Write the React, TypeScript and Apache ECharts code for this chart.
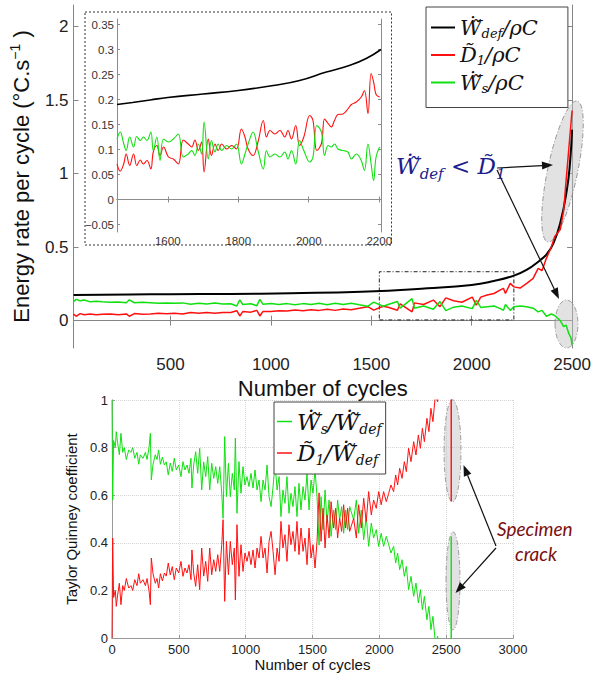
import React, { useEffect, useRef } from 'react';
import * as echarts from 'echarts';

// ---------- DATA ----------
const mainTicksX = [500, 1000, 1500, 2000, 2500];
const mainTicksY = [0, 0.5, 1, 1.5, 2];
const insetTicksX = [1600, 1800, 2000, 2200];
const insetTicksY = [-0.05, 0, 0.05, 0.1, 0.15, 0.2, 0.25, 0.3, 0.35];

const mainBlack = [[17,0.175],[300,0.178],[500,0.18],[800,0.182],[1100,0.187],[1450,0.197],[1780,0.22],[2000,0.243],[2110,0.27],[2207,0.305],[2273,0.345],[2339,0.41],[2375,0.455],[2408,0.53],[2441,0.664],[2474,0.89],[2490,1.08],[2500,1.3]];

const mainRed = [[17,0.045],[30,0.03],[50,0.048],[70,0.04],[100,0.045],[130,0.04],[160,0.044],[200,0.045],[240,0.04],[280,0.046],[295,0.03],[320,0.048],[360,0.044],[400,0.046],[440,0.05],[480,0.047],[520,0.05],[560,0.046],[600,0.056],[640,0.05],[680,0.055],[720,0.05],[760,0.056],[800,0.055],[830,0.068],[845,0.032],[860,0.062],[900,0.058],[930,0.07],[945,0.032],[960,0.062],[1000,0.062],[1040,0.068],[1080,0.065],[1120,0.072],[1160,0.068],[1200,0.075],[1240,0.07],[1280,0.078],[1320,0.07],[1360,0.08],[1400,0.075],[1440,0.085],[1482,0.095],[1512,0.072],[1559,0.098],[1588,0.09],[1630,0.071],[1644,0.115],[1703,0.06],[1715,0.121],[1760,0.11],[1809,0.14],[1842,0.095],[1871,0.155],[1910,0.135],[1951,0.125],[2003,0.16],[2023,0.105],[2045,0.16],[2077,0.175],[2111,0.185],[2143,0.209],[2158,0.22],[2168,0.185],[2192,0.254],[2210,0.23],[2241,0.222],[2274,0.254],[2306,0.288],[2331,0.356],[2350,0.34],[2372,0.424],[2397,0.503],[2413,0.571],[2441,0.62],[2458,0.75],[2470,0.95],[2483,1.16],[2495,1.35],[2500,1.43]];

const mainGreen = [[17,0.13],[30,0.145],[50,0.135],[70,0.14],[100,0.128],[130,0.132],[160,0.128],[200,0.125],[240,0.127],[280,0.122],[295,0.142],[320,0.122],[360,0.125],[400,0.122],[440,0.118],[480,0.121],[520,0.118],[560,0.121],[600,0.112],[640,0.118],[680,0.114],[720,0.12],[760,0.113],[800,0.115],[830,0.1],[845,0.142],[860,0.11],[900,0.115],[930,0.102],[945,0.145],[960,0.112],[1000,0.116],[1040,0.11],[1080,0.116],[1120,0.108],[1160,0.116],[1200,0.11],[1240,0.118],[1280,0.108],[1320,0.118],[1360,0.11],[1400,0.118],[1440,0.108],[1482,0.098],[1512,0.126],[1559,0.098],[1588,0.112],[1630,0.131],[1644,0.085],[1703,0.15],[1715,0.085],[1760,0.1],[1809,0.078],[1842,0.13],[1871,0.068],[1910,0.092],[1951,0.1],[2003,0.082],[2023,0.138],[2045,0.09],[2077,0.095],[2111,0.1],[2143,0.082],[2158,0.07],[2168,0.11],[2192,0.07],[2210,0.095],[2241,0.1],[2274,0.095],[2306,0.085],[2331,0.06],[2350,0.07],[2372,0.03],[2397,0.045],[2413,0.035],[2441,0.0],[2458,-0.04],[2470,-0.03],[2483,-0.085],[2495,-0.12],[2500,-0.165]];

const insetBlack = [[1456,0.19],[1500,0.194],[1550,0.199],[1600,0.204],[1700,0.211],[1800,0.218],[1900,0.228],[1974,0.238],[2050,0.255],[2115,0.268],[2163,0.282],[2205,0.3]];

const insetRed = [[1456,0.071],[1465,0.057],[1475,0.071],[1482,0.091],[1492,0.068],[1503,0.091],[1512,0.068],[1522,0.079],[1531,0.071],[1541,0.078],[1552,0.061],[1559,0.095],[1569,0.108],[1578,0.088],[1588,0.105],[1602,0.085],[1616,0.081],[1630,0.071],[1644,0.119],[1658,0.111],[1668,0.105],[1677,0.119],[1687,0.098],[1696,0.115],[1703,0.055],[1715,0.121],[1724,0.088],[1734,0.111],[1743,0.098],[1753,0.111],[1767,0.101],[1781,0.108],[1795,0.101],[1809,0.141],[1819,0.125],[1828,0.101],[1842,0.088],[1856,0.115],[1871,0.158],[1880,0.125],[1890,0.138],[1904,0.131],[1918,0.138],[1932,0.125],[1941,0.138],[1951,0.121],[1963,0.148],[1974,0.108],[1986,0.125],[2003,0.168],[2012,0.158],[2023,0.098],[2036,0.112],[2045,0.161],[2055,0.152],[2064,0.145],[2073,0.158],[2083,0.17],[2097,0.171],[2111,0.181],[2121,0.19],[2135,0.195],[2149,0.205],[2158,0.218],[2168,0.172],[2177,0.252],[2184,0.235],[2191,0.21],[2201,0.205]];

const insetGreen = [[1456,0.121],[1465,0.135],[1475,0.112],[1482,0.098],[1492,0.125],[1503,0.105],[1512,0.126],[1522,0.118],[1531,0.125],[1541,0.118],[1552,0.135],[1559,0.098],[1569,0.125],[1578,0.078],[1588,0.121],[1602,0.115],[1616,0.121],[1630,0.131],[1644,0.085],[1658,0.091],[1668,0.098],[1677,0.088],[1687,0.111],[1696,0.091],[1703,0.155],[1715,0.081],[1724,0.118],[1734,0.095],[1743,0.111],[1753,0.098],[1767,0.108],[1781,0.101],[1795,0.111],[1809,0.071],[1819,0.091],[1828,0.111],[1842,0.135],[1856,0.098],[1871,0.061],[1880,0.098],[1890,0.085],[1904,0.091],[1918,0.085],[1932,0.095],[1941,0.081],[1951,0.098],[1963,0.071],[1974,0.118],[1986,0.098],[2003,0.075],[2012,0.085],[2023,0.148],[2036,0.135],[2045,0.088],[2055,0.108],[2064,0.105],[2073,0.111],[2083,0.101],[2097,0.098],[2111,0.095],[2121,0.081],[2135,0.091],[2149,0.078],[2158,0.058],[2168,0.111],[2177,0.071],[2184,0.038],[2191,0.085],[2201,0.105]];

const tqWs = [[0,1.0],[5,0.58],[12,0.83],[25,0.8],[32,0.867],[42,0.82],[55,0.77],[67,0.86],[80,0.78],[92,0.8],[107,0.75],[125,0.79],[142,0.78],[155,0.8],[170,0.755],[187,0.78],[200,0.73],[212,0.77],[232,0.755],[250,0.78],[262,0.75],[277,0.8],[287,0.86],[294,0.664],[307,0.73],[324,0.77],[337,0.75],[349,0.79],[362,0.73],[377,0.76],[392,0.727],[406,0.74],[421,0.685],[436,0.735],[451,0.7],[466,0.755],[481,0.706],[499,0.727],[516,0.678],[531,0.741],[546,0.706],[561,0.727],[576,0.692],[591,0.755],[598,0.63],[611,0.727],[626,0.783],[641,0.692],[656,0.797],[671,0.622],[686,0.74],[701,0.678],[716,0.762],[731,0.622],[746,0.734],[761,0.671],[776,0.72],[791,0.65],[806,0.72],[821,0.608],[831,0.503],[843,0.846],[856,0.594],[871,0.734],[885,0.594],[900,0.692],[915,0.622],[923,0.84],[935,0.524],[950,0.741],[965,0.608],[980,0.72],[995,0.643],[1010,0.678],[1025,0.636],[1040,0.692],[1055,0.63],[1070,0.706],[1085,0.622],[1100,0.664],[1115,0.573],[1130,0.664],[1145,0.622],[1160,0.727],[1175,0.594],[1190,0.552],[1205,0.636],[1220,0.734],[1235,0.622],[1250,0.678],[1264,0.51],[1279,0.622],[1294,0.566],[1309,0.678],[1324,0.524],[1339,0.608],[1354,0.552],[1369,0.636],[1384,0.51],[1399,0.65],[1414,0.538],[1429,0.636],[1444,0.58],[1459,0.692],[1474,0.538],[1489,0.664],[1504,0.608],[1519,0.706],[1534,0.594],[1549,0.39],[1564,0.594],[1579,0.455],[1594,0.622],[1609,0.483],[1624,0.58],[1639,0.427],[1658,0.538],[1673,0.455],[1688,0.58],[1703,0.497],[1718,0.552],[1733,0.44],[1748,0.538],[1763,0.455],[1778,0.552],[1808,0.497],[1828,0.58],[1845,0.44],[1865,0.538],[1883,0.413],[1902,0.511],[1920,0.385],[1940,0.483],[1957,0.42],[1977,0.455],[1995,0.385],[2014,0.44],[2032,0.385],[2052,0.427],[2070,0.392],[2087,0.357],[2107,0.385],[2122,0.315],[2137,0.357],[2152,0.287],[2170,0.329],[2187,0.259],[2202,0.301],[2219,0.203],[2237,0.259],[2257,0.175],[2274,0.231],[2292,0.147],[2307,0.203],[2322,0.119],[2337,0.175],[2356,0.077],[2371,0.133],[2386,0.035],[2401,0.091],[2419,-0.02],[2436,0.007],[2456,-0.08],[2475,-0.2],[2495,-0.45],[2515,-0.9],[2530,-1.6],[2538,0.426],[2545,-1.6]];

const tqD1 = [[0,0.0],[5,0.42],[12,0.17],[25,0.2],[32,0.133],[42,0.18],[55,0.23],[67,0.14],[80,0.22],[92,0.2],[107,0.25],[125,0.21],[142,0.22],[155,0.2],[170,0.245],[187,0.22],[200,0.27],[212,0.23],[232,0.245],[250,0.22],[262,0.25],[277,0.2],[287,0.14],[294,0.336],[307,0.27],[324,0.23],[337,0.25],[349,0.21],[362,0.27],[377,0.24],[392,0.273],[406,0.26],[421,0.315],[436,0.265],[451,0.3],[466,0.245],[481,0.294],[499,0.273],[516,0.322],[531,0.259],[546,0.294],[561,0.273],[576,0.308],[591,0.245],[598,0.37],[611,0.273],[626,0.217],[641,0.308],[656,0.203],[671,0.378],[686,0.26],[701,0.322],[716,0.238],[731,0.378],[746,0.266],[761,0.329],[776,0.28],[791,0.35],[806,0.28],[821,0.392],[831,0.497],[843,0.154],[856,0.406],[871,0.266],[885,0.406],[900,0.308],[915,0.378],[923,0.16],[935,0.476],[950,0.259],[965,0.392],[980,0.28],[995,0.357],[1010,0.322],[1025,0.364],[1040,0.308],[1055,0.37],[1070,0.294],[1085,0.378],[1100,0.336],[1115,0.427],[1130,0.336],[1145,0.378],[1160,0.273],[1175,0.406],[1190,0.448],[1205,0.364],[1220,0.266],[1235,0.378],[1250,0.322],[1264,0.49],[1279,0.378],[1294,0.434],[1309,0.322],[1324,0.476],[1339,0.392],[1354,0.448],[1369,0.364],[1384,0.49],[1399,0.35],[1414,0.462],[1429,0.364],[1444,0.42],[1459,0.308],[1474,0.462],[1489,0.336],[1504,0.392],[1519,0.294],[1534,0.406],[1549,0.61],[1564,0.406],[1579,0.545],[1594,0.378],[1609,0.517],[1624,0.42],[1639,0.573],[1658,0.462],[1673,0.545],[1688,0.42],[1703,0.503],[1718,0.448],[1733,0.56],[1748,0.462],[1763,0.545],[1778,0.448],[1808,0.503],[1828,0.42],[1845,0.56],[1865,0.462],[1883,0.587],[1902,0.489],[1920,0.615],[1940,0.517],[1957,0.58],[1977,0.545],[1995,0.615],[2014,0.56],[2032,0.615],[2052,0.573],[2070,0.608],[2087,0.643],[2107,0.615],[2122,0.685],[2137,0.643],[2152,0.713],[2170,0.671],[2187,0.741],[2202,0.699],[2219,0.797],[2237,0.741],[2257,0.825],[2274,0.769],[2292,0.853],[2307,0.797],[2322,0.881],[2337,0.825],[2356,0.923],[2371,0.867],[2386,0.965],[2401,0.909],[2419,1.02],[2436,0.993],[2456,1.08],[2475,1.2],[2495,1.45],[2515,1.9],[2530,2.6],[2538,0.574],[2545,2.6]];

// ---------- helpers ----------
const WD = 'W\u0307\u0303';
const DT = 'D\u0303';
const MATH = 'DejaVu Serif';
const SANS = 'Liberation Sans';
const plain = (v: number) => String(v);

function mathRich(size: number, sub: number, lh: number, color: string) {
  return {
    w: { fontFamily: MATH, fontStyle: 'italic', fontSize: size, lineHeight: lh, color, fill: color },
    s: { fontFamily: MATH, fontStyle: 'italic', fontSize: sub, lineHeight: sub + 2, verticalAlign: 'bottom', color, fill: color },
    t: { fontFamily: MATH, fontStyle: 'italic', fontSize: size, lineHeight: lh, color, fill: color },
  };
}

function arrow(x1: number, y1: number, x2: number, y2: number) {
  const a = Math.atan2(y2 - y1, x2 - x1);
  const head = 11, hw = 4;
  const bx = x2 - head * Math.cos(a), by = y2 - head * Math.sin(a);
  const px = -Math.sin(a) * hw, py = Math.cos(a) * hw;
  return [
    { type: 'line', z: 10, shape: { x1, y1, x2: bx, y2: by }, style: { stroke: '#111', lineWidth: 1.2 } },
    { type: 'polygon', z: 10, shape: { points: [[x2, y2], [bx + px, by + py], [bx - px, by - py]] }, style: { fill: '#111' } },
  ];
}

function ellipse(cx: number, cy: number, rx: number, ry: number, rot: number) {
  return {
    type: 'ellipse', z: 1, x: cx, y: cy, rotation: rot,
    shape: { cx: 0, cy: 0, rx, ry },
    style: { fill: 'rgba(190,190,190,0.45)', stroke: '#8a8a8a', lineWidth: 0.8, lineDash: [5, 2, 1, 2] },
  };
}

const boxAxis = (color: string) => ({ show: true, lineStyle: { color, width: 1 } });

export default function App() {
  const ref = useRef<HTMLDivElement>(null);
  useEffect(() => {
    document.body.style.margin = '0';
    const chart = echarts.init(ref.current!, null, { renderer: 'svg' });
    const legendNames: Record<string, string> = {
      wdef: `{w|${WD}}{s|def}{t|/ρC}`,
      d1: `{w|${DT}}{s|1}{t|/ρC}`,
      ws: `{w|${WD}}{s|s}{t|/ρC}`,
      qws: `{w|${WD}}{s|s}{t|/}{w|${WD}}{s|def}`,
      qd1: `{w|${DT}}{s|1}{t|/}{w|${WD}}{s|def}`,
    };
    const mainGrey = '#858585';
    const option: any = {
      animation: false,
      grid: [
        { left: 68, top: 5, width: 505, height: 343 },
        { left: 117, top: 19, width: 264, height: 213 },
        { left: 112, top: 400, width: 401, height: 238 },
      ],
      xAxis: [
        {
          gridIndex: 0, type: 'value', min: 17, max: 2500,
          axisLine: boxAxis(mainGrey),
          axisTick: { inside: true, length: 5, customValues: mainTicksX, lineStyle: { color: mainGrey } },
          axisLabel: { customValues: mainTicksX, formatter: plain, fontSize: 17, fontFamily: SANS, color: '#222', margin: 8 },
          splitLine: { show: false },
          name: 'Number of cycles', nameLocation: 'middle', nameGap: 19,
          nameTextStyle: { fontSize: 22, fontFamily: SANS, color: '#111' },
        },
        {
          gridIndex: 0, type: 'value', position: 'top', min: 17, max: 2500,
          axisLine: boxAxis(mainGrey),
          axisTick: { inside: true, length: 5, customValues: mainTicksX, lineStyle: { color: mainGrey } },
          axisLabel: { show: false }, splitLine: { show: false },
        },
        {
          gridIndex: 1, type: 'value', min: 1456, max: 2205,
          axisLine: boxAxis('#8c8c8c'),
          axisTick: { inside: true, length: 3, customValues: insetTicksX, lineStyle: { color: '#8c8c8c' } },
          axisLabel: { customValues: insetTicksX, formatter: plain, fontSize: 11.5, fontFamily: SANS, color: '#333', margin: 3 },
          splitLine: { show: false },
        },
        {
          gridIndex: 1, type: 'value', position: 'top', min: 1456, max: 2205,
          axisLine: boxAxis('#8c8c8c'),
          axisTick: { inside: true, length: 3, customValues: insetTicksX, lineStyle: { color: '#8c8c8c' } },
          axisLabel: { show: false }, splitLine: { show: false },
        },
        {
          gridIndex: 2, type: 'value', min: 0, max: 3000, interval: 500,
          axisLine: boxAxis('#999'),
          axisTick: { inside: true, length: 3, lineStyle: { color: '#999' } },
          axisLabel: { formatter: plain, fontSize: 13, fontFamily: SANS, color: '#222', margin: 5 },
          splitLine: { show: true, lineStyle: { color: '#d4d4d4', type: 'dotted', width: 1 } },
          name: 'Number of cycles', nameLocation: 'middle', nameGap: 13,
          nameTextStyle: { fontSize: 15, fontFamily: SANS, color: '#111' },
        },
        {
          gridIndex: 2, type: 'value', position: 'top', min: 0, max: 3000, interval: 500,
          axisLine: boxAxis('#999'), axisTick: { show: false },
          axisLabel: { show: false }, splitLine: { show: false },
        },
      ],
      yAxis: [
        {
          gridIndex: 0, type: 'value', min: -0.186, max: 2.148,
          axisLine: boxAxis(mainGrey),
          axisTick: { inside: true, length: 5, customValues: mainTicksY, lineStyle: { color: mainGrey } },
          axisLabel: { customValues: mainTicksY, formatter: plain, fontSize: 17, fontFamily: SANS, color: '#222', margin: 5 },
          splitLine: { show: false },
          name: 'Energy rate per cycle (°C.s{sup|−1} )', nameLocation: 'middle', nameGap: 32,
          nameTextStyle: {
            fontSize: 22, fontFamily: SANS, color: '#111', lineHeight: 26,
            rich: { sup: { fontSize: 14, lineHeight: 14, verticalAlign: 'top', fontFamily: SANS, color: '#111' } },
          },
        },
        {
          gridIndex: 0, type: 'value', position: 'right', min: -0.186, max: 2.148,
          axisLine: boxAxis(mainGrey),
          axisTick: { inside: true, length: 5, customValues: mainTicksY, lineStyle: { color: mainGrey } },
          axisLabel: { show: false }, splitLine: { show: false },
        },
        {
          gridIndex: 1, type: 'value', min: -0.065, max: 0.361,
          axisLine: boxAxis('#8c8c8c'),
          axisTick: { inside: true, length: 3, customValues: insetTicksY, lineStyle: { color: '#8c8c8c' } },
          axisLabel: {
            customValues: insetTicksY, fontSize: 11.5, fontFamily: SANS, color: '#333', margin: 3,
            formatter: (v: number) => String(v).replace('-', '\u2212'),
          },
          splitLine: { show: false },
        },
        {
          gridIndex: 1, type: 'value', position: 'right', min: -0.065, max: 0.361,
          axisLine: boxAxis('#8c8c8c'),
          axisTick: { inside: true, length: 3, customValues: insetTicksY, lineStyle: { color: '#8c8c8c' } },
          axisLabel: { show: false }, splitLine: { show: false },
        },
        {
          gridIndex: 2, type: 'value', min: 0, max: 1, interval: 0.2,
          axisLine: boxAxis('#999'),
          axisTick: { inside: true, length: 3, lineStyle: { color: '#999' } },
          axisLabel: { fontSize: 13, fontFamily: SANS, color: '#222', margin: 4 },
          splitLine: { show: true, lineStyle: { color: '#d4d4d4', type: 'dotted', width: 1 } },
          name: 'Taylor Quinney coefficient', nameLocation: 'middle', nameGap: 22,
          nameTextStyle: { fontSize: 15, fontFamily: SANS, color: '#111' },
        },
        {
          gridIndex: 2, type: 'value', position: 'right', min: 0, max: 1, interval: 0.2,
          axisLine: boxAxis('#999'), axisTick: { show: false },
          axisLabel: { show: false }, splitLine: { show: false },
        },
      ],
      legend: [
        {
          data: ['wdef', 'd1', 'ws'], left: 426, top: 7, orient: 'vertical', icon: 'rect',
          itemWidth: 24, itemHeight: 2, itemGap: 5, padding: [10, 30, 13, 5],
          borderColor: '#444', borderWidth: 1, backgroundColor: '#fff', selectedMode: false,
          formatter: (n: string) => legendNames[n],
          textStyle: { rich: mathRich(21, 13, 24, '#111') },
        },
        {
          data: ['qws', 'qd1'], left: 274, top: 402, orient: 'vertical', icon: 'rect',
          itemWidth: 15, itemHeight: 1.5, itemGap: 6, padding: [8, 4, 7, 3],
          borderColor: '#444', borderWidth: 1, backgroundColor: '#fff', selectedMode: false,
          formatter: (n: string) => legendNames[n],
          textStyle: { rich: mathRich(23, 14, 28, '#111') },
        },
      ],
      series: [
        {
          name: 'wdef', type: 'line', xAxisIndex: 0, yAxisIndex: 0, data: mainBlack, smooth: true,
          showSymbol: false, symbol: 'none', color: '#000', lineStyle: { color: '#000', width: 2 }, z: 3,
          markArea: {
            silent: true,
            itemStyle: { color: 'rgba(0,0,0,0)', borderColor: '#222', borderWidth: 1, borderType: [4, 2, 1, 2] },
            data: [[{ xAxis: 1540, yAxis: 0.005 }, { xAxis: 2210, yAxis: 0.333 }]],
          },
        },
        {
          name: 'd1', type: 'line', xAxisIndex: 0, yAxisIndex: 0, data: mainRed,
          showSymbol: false, symbol: 'none', color: '#ff1010', lineStyle: { color: '#ff1010', width: 1.5 },
        },
        {
          name: 'ws', type: 'line', xAxisIndex: 0, yAxisIndex: 0, data: mainGreen,
          showSymbol: false, symbol: 'none', color: '#10e010', lineStyle: { color: '#10e010', width: 1.5 },
        },
        {
          name: 'iblack', type: 'line', xAxisIndex: 2, yAxisIndex: 2, data: insetBlack, smooth: true,
          showSymbol: false, symbol: 'none', lineStyle: { color: '#000', width: 1.6 },
        },
        {
          name: 'ired', type: 'line', xAxisIndex: 2, yAxisIndex: 2, data: insetRed, smooth: 0.4,
          showSymbol: false, symbol: 'none', lineStyle: { color: '#ff1010', width: 1.1 },
        },
        {
          name: 'igreen', type: 'line', xAxisIndex: 2, yAxisIndex: 2, data: insetGreen, smooth: 0.4,
          showSymbol: false, symbol: 'none', lineStyle: { color: '#10e010', width: 1.1 },
        },
        {
          name: 'qws', type: 'line', xAxisIndex: 4, yAxisIndex: 4, data: tqWs,
          showSymbol: false, symbol: 'none', color: '#10e010', lineStyle: { color: '#10e010', width: 1 },
        },
        {
          name: 'qd1', type: 'line', xAxisIndex: 4, yAxisIndex: 4, data: tqD1,
          showSymbol: false, symbol: 'none', color: '#ff1010', lineStyle: { color: '#ff1010', width: 1 },
        },
      ],
      graphic: [
        {
          type: 'rect', z: 0, shape: { x: 85, y: 12, width: 306.5, height: 233 },
          style: { fill: '#fff', stroke: '#333', lineWidth: 1, lineDash: [2, 2] },
        },
        ellipse(562.5, 171.5, 15, 72, -0.205),
        ellipse(566.5, 324, 11.5, 24, 0),
        ellipse(452.5, 450.8, 8.5, 51, 0),
        ellipse(453, 580.8, 7, 49, 0),
        ...arrow(497, 168, 553, 165),
        ...arrow(497, 170, 559, 299),
        ...arrow(496, 546, 463.5, 465),
        ...arrow(496, 548, 455.5, 593),
        {
          type: 'text', z: 11, x: 396, y: 166,
          style: {
            text: `{w|${WD}}{s|def}{t| < }{w|${DT}}{s|1}`,
            rich: mathRich(23, 15, 30, '#1c1c8c'),
            fill: '#1c1c8c', verticalAlign: 'middle',
          },
        },
        {
          type: 'text', z: 11, x: 497, y: 528,
          style: { text: 'Specimen', fill: '#7a0f0f', font: 'italic 19px Lato', verticalAlign: 'middle' },
        },
        {
          type: 'text', z: 11, x: 515, y: 553,
          style: { text: 'crack', fill: '#7a0f0f', font: 'italic 19px Lato', verticalAlign: 'middle' },
        },
      ],
    };
    chart.setOption(option);
    return () => chart.dispose();
  }, []);
  return <div ref={ref} style={{ width: 594, height: 673 }} />;
}
